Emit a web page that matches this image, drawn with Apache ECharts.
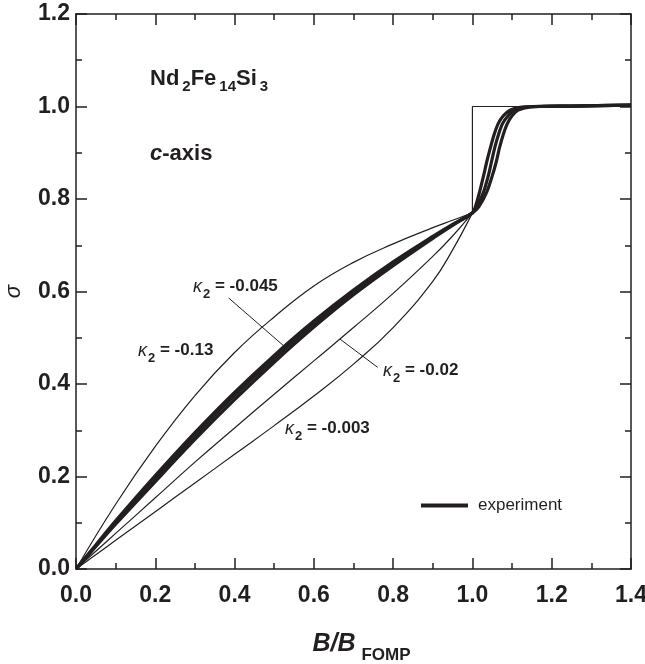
<!DOCTYPE html>
<html>
<head>
<meta charset="utf-8">
<script src="https://cdn.jsdelivr.net/npm/echarts@6/dist/echarts.min.js"></script>
<style>
  html, body { margin: 0; padding: 0; background: #ffffff; }
  #chart { width: 645px; height: 664px; }
</style>
</head>
<body>
<div id="chart"></div>
<script>
// Reduced field B/B_FOMP at which the model curves are sampled
const fieldB = [0, 0.1, 0.2, 0.3, 0.4, 0.5, 0.6, 0.7, 0.8, 0.9, 0.95, 1.0];

// Model magnetisation sigma for each kappa_2 value, below the FOMP
const sigmaK013 = [0, 0.140, 0.265, 0.375, 0.468, 0.545, 0.612, 0.663, 0.703, 0.738, 0.754, 0.770];
const sigmaK0045 = [0, 0.100, 0.195, 0.288, 0.375, 0.455, 0.530, 0.598, 0.660, 0.717, 0.744, 0.770];
const sigmaK002 = [0, 0.077, 0.154, 0.231, 0.305, 0.378, 0.450, 0.522, 0.596, 0.676, 0.720, 0.770];
const sigmaK0003 = [0, 0.062, 0.124, 0.186, 0.248, 0.310, 0.374, 0.443, 0.522, 0.622, 0.690, 0.770];

// First-order jump of the model at B = B_FOMP and the saturated branch
const jumpB = [1.0, 1.0, 1.4];
const jumpSigma = [0.770, 1.0, 1.0];

// Measured curves (three sweeps), [B/B_FOMP, sigma]
const run1 = [[0,0],[0.05,0.052],[0.1,0.104],[0.2,0.202],[0.3,0.295],[0.4,0.382],[0.5,0.462],[0.6,0.536],[0.7,0.603],[0.8,0.664],[0.9,0.719],[0.95,0.745],[1.0,0.770],
  [1.008,0.785],[1.018,0.815],[1.028,0.850],[1.036,0.880],[1.045,0.910],[1.055,0.940],[1.065,0.963],[1.078,0.980],[1.095,0.992],[1.12,0.998],[1.15,1.000],[1.25,1.001],[1.4,1.003]];
const run2 = [[0,0],[0.05,0.049],[0.1,0.097],[0.2,0.189],[0.3,0.280],[0.4,0.366],[0.5,0.447],[0.6,0.523],[0.7,0.593],[0.8,0.656],[0.9,0.715],[0.95,0.743],[1.0,0.770],
  [1.012,0.785],[1.028,0.815],[1.040,0.850],[1.048,0.880],[1.056,0.910],[1.066,0.940],[1.076,0.963],[1.090,0.980],[1.105,0.992],[1.13,0.998],[1.16,1.000],[1.25,1.001],[1.4,1.003]];
const run3 = [[0,0],[0.05,0.050],[0.1,0.100],[0.2,0.195],[0.3,0.288],[0.4,0.375],[0.5,0.455],[0.6,0.530],[0.7,0.598],[0.8,0.660],[0.9,0.717],[0.95,0.744],[1.0,0.770],
  [1.016,0.783],[1.036,0.815],[1.050,0.850],[1.060,0.880],[1.068,0.910],[1.078,0.940],[1.088,0.963],[1.100,0.980],[1.115,0.992],[1.14,0.998],[1.17,1.000],[1.25,1.001],[1.4,1.003]];

// Leader lines from the kappa_2 labels to their curves
const leader0045 = [[0.385, 0.586], [0.530, 0.478]];
const leader002 = [[0.666, 0.497], [0.761, 0.436]];

// Tick labels
const xTickValues = [0, 0.2, 0.4, 0.6, 0.8, 1.0, 1.2, 1.4];
const xTickLabels = ['0.0', '0.2', '0.4', '0.6', '0.8', '1.0', '1.2', '1.4'];
const yTickValues = [0, 0.2, 0.4, 0.6, 0.8, 1.0, 1.2];
const yTickLabels = ['0.0', '0.2', '0.4', '0.6', '0.8', '1.0', '1.2'];

const INK = '#231f20';
const FONT = '"Liberation Sans", Arial, Helvetica, sans-serif';

function pairs(xs, ys) { return xs.map((x, i) => [x, ys[i]]); }
function tickLabel(values, labels) {
  return v => {
    const i = values.findIndex(t => Math.abs(t - v) < 1e-6);
    return i >= 0 ? labels[i] : '';
  };
}

const chart = echarts.init(document.getElementById('chart'), null, { renderer: 'canvas' });

const axisCommon = {
  type: 'value',
  interval: 0.2,
  axisLine: { show: true, onZero: false, lineStyle: { color: INK, width: 1.5 } },
  axisTick: { show: true, inside: true, length: 11, lineStyle: { color: INK, width: 1.5 } },
  minorTick: { show: true, splitNumber: 2, length: 6, lineStyle: { color: INK, width: 1.5 } },
  splitLine: { show: false },
  minorSplitLine: { show: false }
};

const thin = { color: INK, width: 1.2 };
const theory = (name, data) => ({
  name, type: 'line', data, symbol: 'none', smooth: 0.45,
  lineStyle: thin, silent: true, z: 2
});
const measured = (name, data) => ({
  name, type: 'line', data, symbol: 'none', smooth: 0.3,
  lineStyle: { color: INK, width: 3.2 }, itemStyle: { color: INK }, silent: true, z: 3
});
const leader = data => ({
  type: 'line', data, symbol: 'none', lineStyle: { color: INK, width: 1 }, silent: true, z: 1
});

chart.setOption({
  animation: false,
  backgroundColor: '#ffffff',
  grid: { left: 76, right: 14, top: 14, bottom: 95, containLabel: false, outerBoundsMode: 'none' },
  xAxis: [
    Object.assign({}, axisCommon, {
      position: 'bottom', min: 0, max: 1.4,
      axisLabel: { show: true, margin: 15, color: INK, fontFamily: FONT, fontWeight: 'bold', fontSize: 23,
        formatter: tickLabel(xTickValues, xTickLabels), showMinLabel: true, showMaxLabel: true },
      name: '{a|B/B}{b|FOMP}',
      nameLocation: 'middle', nameGap: 63,
      nameTextStyle: {
        rich: {
          a: { fontFamily: FONT, fontWeight: 'bold', fontStyle: 'italic', fontSize: 25, color: INK, verticalAlign: 'top', lineHeight: 26, padding: [0, 0, 0, 16] },
          b: { fontFamily: FONT, fontWeight: 'bold', fontSize: 17, color: INK, verticalAlign: 'top', lineHeight: 17, padding: [15, 0, 0, 6] }
        }
      }
    }),
    Object.assign({}, axisCommon, {
      position: 'top', min: 0, max: 1.4, axisLabel: { show: false }
    })
  ],
  yAxis: [
    Object.assign({}, axisCommon, {
      position: 'left', min: 0, max: 1.2,
      axisLabel: { show: true, margin: 6, color: INK, fontFamily: FONT, fontWeight: 'bold', fontSize: 23,
        formatter: tickLabel(yTickValues, yTickLabels), showMinLabel: true, showMaxLabel: true },
      name: 'σ', nameLocation: 'middle', nameGap: 51, nameRotate: 90,
      nameTextStyle: { fontFamily: FONT, fontStyle: 'italic', fontSize: 22, color: INK }
    }),
    Object.assign({}, axisCommon, {
      position: 'right', min: 0, max: 1.2, axisLabel: { show: false }
    })
  ],
  legend: {
    data: ['experiment'],
    left: 416, top: 492,
    icon: 'rect', itemWidth: 47, itemHeight: 4,
    textStyle: { fontFamily: FONT, fontSize: 17, color: INK, padding: [0, 0, 0, 5] },
    selectedMode: false
  },
  series: [
    theory('κ2 = -0.13', pairs(fieldB, sigmaK013)),
    theory('κ2 = -0.045', pairs(fieldB, sigmaK0045)),
    theory('κ2 = -0.02', pairs(fieldB, sigmaK002)),
    theory('κ2 = -0.003', pairs(fieldB, sigmaK0003)),
    Object.assign(theory('jump', pairs(jumpB, jumpSigma)), { smooth: false }),
    leader(leader0045),
    leader(leader002),
    measured('experiment', run1),
    measured('experiment run 2', run2),
    measured('experiment run 3', run3)
  ],
  graphic: (function () {
    const main = { fontFamily: FONT, fontWeight: 'bold', fontSize: 22, lineHeight: 22, fill: INK, verticalAlign: 'top' };
    const sub = { fontFamily: FONT, fontWeight: 'bold', fontSize: 15, lineHeight: 15, fill: INK, verticalAlign: 'top', padding: [11, 0, 0, 3] };
    const kRich = {
      k: { fontFamily: FONT, fontStyle: 'italic', fontSize: 18, lineHeight: 18, fill: INK, verticalAlign: 'top' },
      s: { fontFamily: FONT, fontWeight: 'bold', fontSize: 13, lineHeight: 13, fill: INK, verticalAlign: 'top', padding: [10, 0, 0, 1] },
      t: { fontFamily: FONT, fontWeight: 'bold', fontSize: 17, lineHeight: 18, fill: INK, verticalAlign: 'top' }
    };
    const kLabel = (x, y, value) => ({
      type: 'text', x, y, silent: true,
      style: { text: '{k|κ}{s|2}{t| = ' + value + '}', rich: kRich, verticalAlign: 'top' }
    });
    return [
      {
        type: 'text', x: 150, y: 68, silent: true,
        style: { text: '{m|Nd}{s|2}{m|Fe}{s|14}{m|Si}{s|3}', rich: { m: main, s: sub }, verticalAlign: 'top' }
      },
      {
        type: 'text', x: 150, y: 143, silent: true,
        style: {
          text: '{i|c}{m|-axis}', verticalAlign: 'top',
          rich: { i: Object.assign({}, main, { fontStyle: 'italic' }), m: main }
        }
      },
      kLabel(138, 342, '-0.13'),
      kLabel(193, 278, '-0.045'),
      kLabel(383, 362, '-0.02'),
      kLabel(285, 420, '-0.003')
    ];
  })()
});
</script>
</body>
</html>
